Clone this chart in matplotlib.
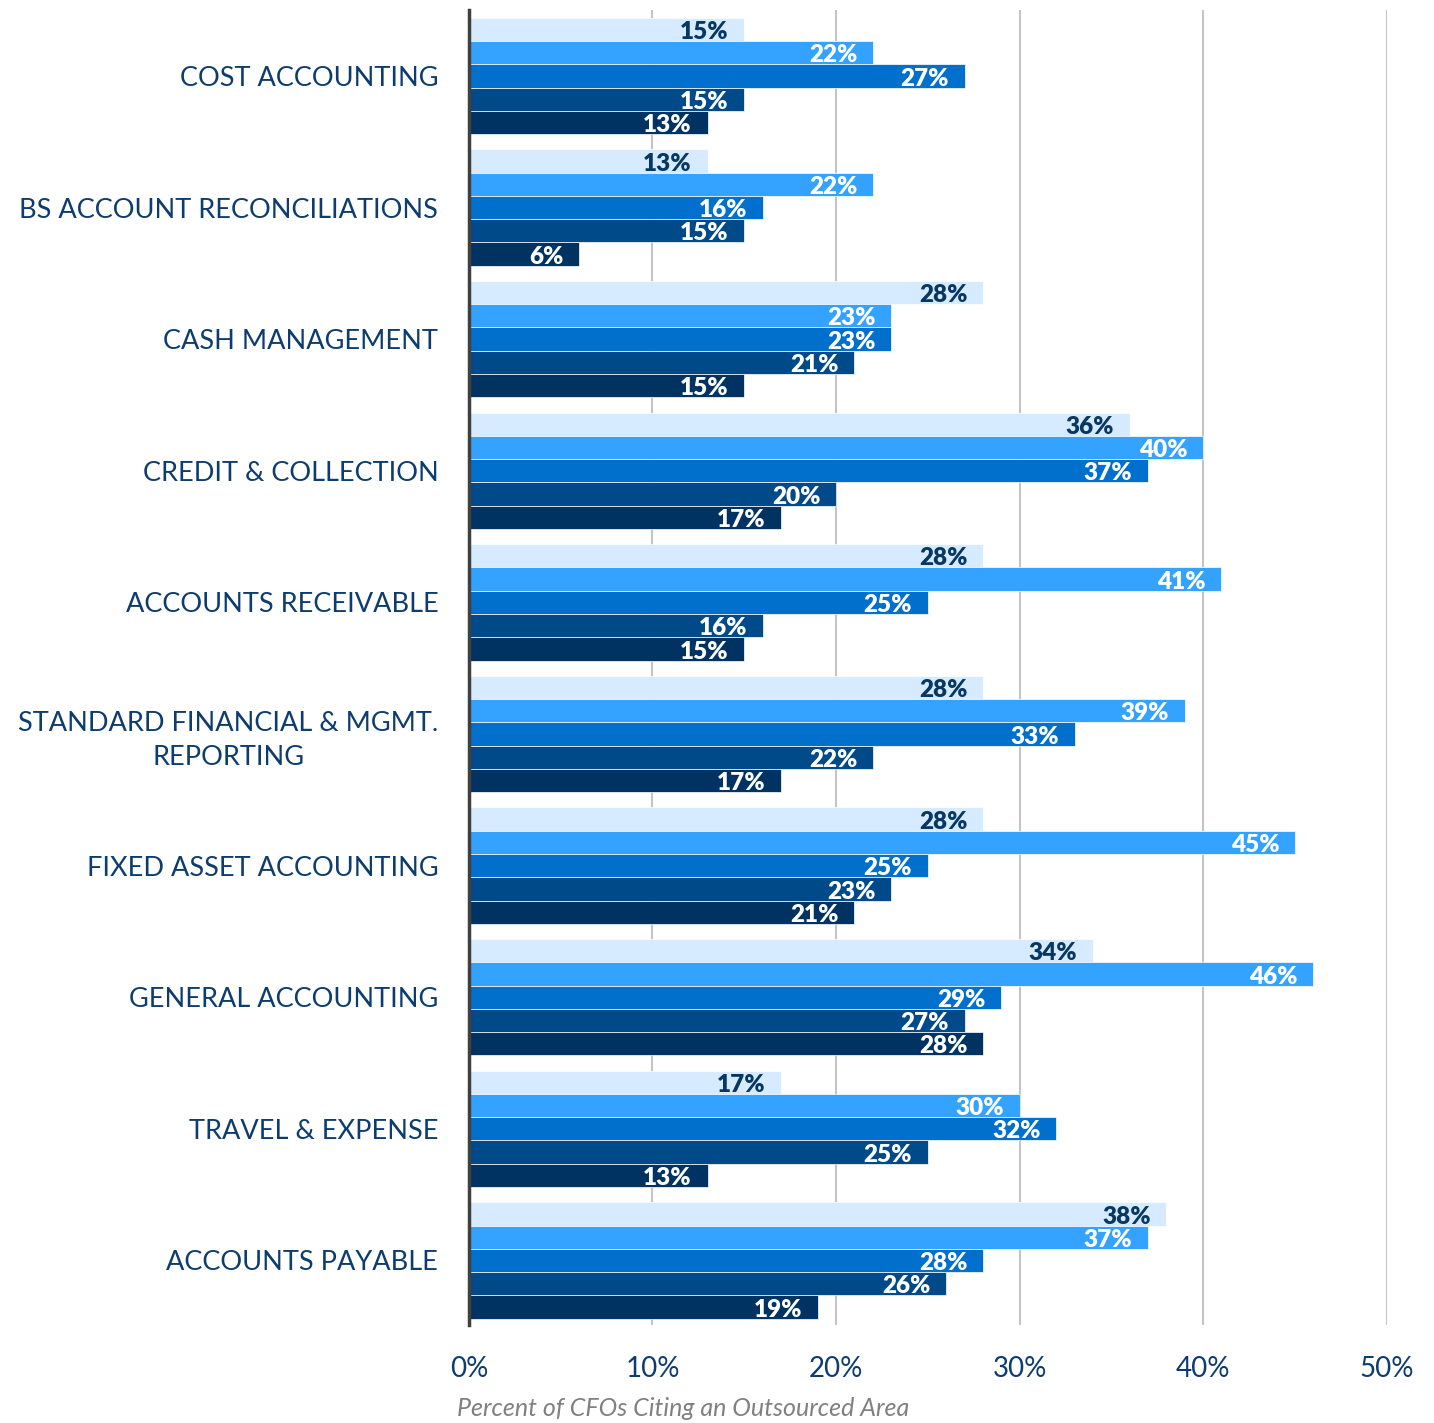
import numpy as np
import matplotlib.pyplot as plt

plt.rcParams['font.family'] = ['Lato', 'DejaVu Sans']

categories = ['COST ACCOUNTING', 'BS ACCOUNT RECONCILIATIONS', 'CASH MANAGEMENT',
              'CREDIT & COLLECTION', 'ACCOUNTS RECEIVABLE',
              'STANDARD FINANCIAL & MGMT.\nREPORTING', 'FIXED ASSET ACCOUNTING',
              'GENERAL ACCOUNTING', 'TRAVEL & EXPENSE', 'ACCOUNTS PAYABLE']

# five series, drawn top to bottom inside each group
series_1 = [15, 13, 28, 36, 28, 28, 28, 34, 17, 38]
series_2 = [22, 22, 23, 40, 41, 39, 45, 46, 30, 37]
series_3 = [27, 16, 23, 37, 25, 33, 25, 29, 32, 28]
series_4 = [15, 15, 21, 20, 16, 22, 23, 27, 25, 26]
series_5 = [13, 6, 15, 17, 15, 17, 21, 28, 13, 19]

x_ticks = [0, 10, 20, 30, 40, 50]
x_title = 'Percent of CFOs Citing an Outsourced Area'

COLORS = ['#d6ebff', '#33a3ff', '#0070cc', '#004a8a', '#003361']
LABEL_COLORS = ['#073763', 'white', 'white', 'white', 'white']
NAVY = '#0d3c6e'

fig = plt.figure(figsize=(14.34, 14.23), dpi=100)
ax = fig.add_axes([0.327, 0.0689, 0.640, 0.924])

all_series = [series_1, series_2, series_3, series_4, series_5]
n = len(all_series)
h = 0.177
y = np.arange(len(categories))

for i, vals in enumerate(all_series):
    pos = y + (i - (n - 1) / 2) * h
    ax.barh(pos, vals, height=h, color=COLORS[i], edgecolor='white', linewidth=0.5, zorder=3)
    for p, v in zip(pos, vals):
        ax.text(v - 0.85, p + 0.02, f'{v}%', ha='right', va='center', fontsize=17.5,
                fontweight='heavy', color=LABEL_COLORS[i], zorder=4)

ax.set_xlim(0, 50)
ax.set_ylim(9.49, -0.5)
ax.set_xticks(x_ticks)
ax.set_xticklabels([f'{t}%' for t in x_ticks], fontsize=20, color=NAVY)
ax.set_yticks(y)
ax.set_yticklabels(categories, fontsize=19.5, color=NAVY)
for lab in ax.get_yticklabels():
    lab.set_multialignment('center')
    lab.set_linespacing(1.45)
ax.tick_params(axis='y', length=0, pad=22)
ax.tick_params(axis='x', length=0, pad=22)

ax.grid(axis='x', color='#c4c4c4', linewidth=1.5, zorder=0)
for s in ['top', 'right', 'bottom']:
    ax.spines[s].set_visible(False)
ax.spines['left'].set_color('#404040')
ax.spines['left'].set_linewidth(2.5)
ax.spines['left'].set_zorder(5)

fig.text(683 / 1434, 1 - 1409 / 1423, x_title, ha='center', va='center',
         fontsize=18, style='italic', color='#808080')

fig.savefig('out.png', dpi=100, facecolor='white')
